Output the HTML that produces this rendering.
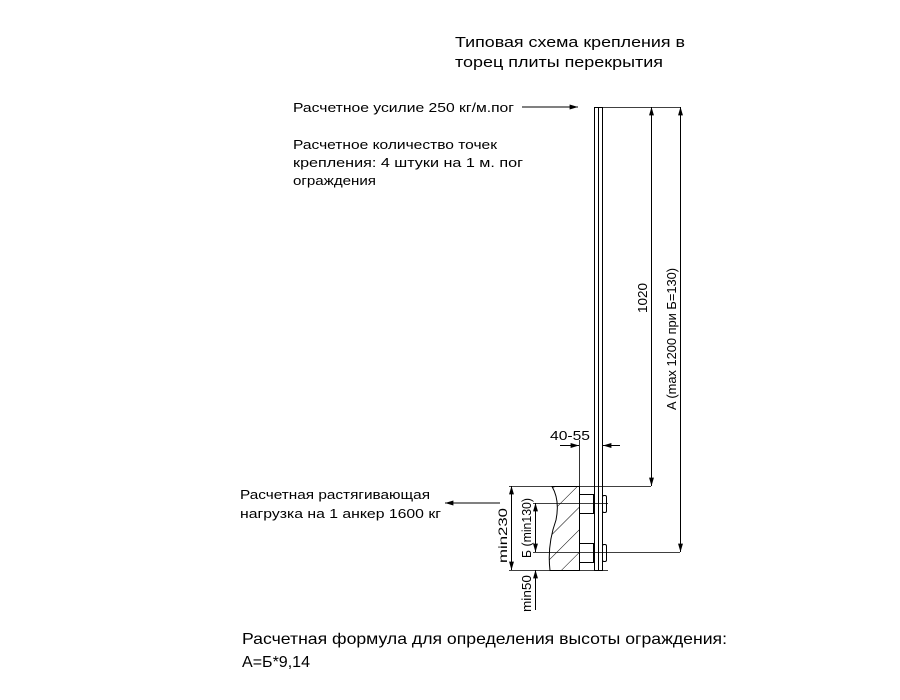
<!DOCTYPE html>
<html><head><meta charset="utf-8"><style>
body{margin:0;background:#fff}
svg{display:block}
text{font-family:"Liberation Sans","DejaVu Sans",sans-serif;fill:#000}
</style></head><body>
<svg width="900" height="700" viewBox="0 0 900 700" xmlns="http://www.w3.org/2000/svg">
<defs>
<marker id="a" viewBox="0 0 12 10" refX="12" refY="5" markerWidth="12" markerHeight="7" orient="auto-start-reverse" markerUnits="userSpaceOnUse"><path d="M0,1.5 L12,5 L0,8.5z" fill="#000"/></marker>
<pattern id="h" width="16" height="16" patternUnits="userSpaceOnUse" patternTransform="rotate(45)"><line x1="0" y1="0" x2="0" y2="16" stroke="#000" stroke-width="1"/></pattern>
</defs>
<g font-size="14">
<text x="455" y="47" font-size="15" textLength="230" lengthAdjust="spacingAndGlyphs">Типовая схема крепления в</text>
<text x="455" y="67" font-size="15" textLength="208" lengthAdjust="spacingAndGlyphs">торец плиты перекрытия</text>
<text x="293" y="112" font-size="13" textLength="221" lengthAdjust="spacingAndGlyphs">Расчетное усилие 250 кг/м.пог</text>
<text x="293" y="149" font-size="13" textLength="204" lengthAdjust="spacingAndGlyphs">Расчетное количество точек</text>
<text x="293" y="167" font-size="13" textLength="230" lengthAdjust="spacingAndGlyphs">крепления: 4 штуки на 1 м. пог</text>
<text x="293" y="185" font-size="13" textLength="83" lengthAdjust="spacingAndGlyphs">ограждения</text>
<text x="240" y="499" font-size="13" textLength="190" lengthAdjust="spacingAndGlyphs">Расчетная растягивающая</text>
<text x="240" y="518" font-size="13" textLength="201" lengthAdjust="spacingAndGlyphs">нагрузка на 1 анкер 1600 кг</text>
<text x="242" y="644" font-size="16" textLength="485" lengthAdjust="spacingAndGlyphs">Расчетная формула для определения высоты ограждения:</text>
<text x="242" y="667" font-size="16" textLength="68" lengthAdjust="spacingAndGlyphs">А=Б*9,14</text>
<text x="550" y="440" font-size="13" textLength="40" lengthAdjust="spacingAndGlyphs">40-55</text>
</g>
<g stroke="#000" stroke-width="1" fill="none">
<line x1="522" y1="107" x2="578" y2="107" marker-end="url(#a)"/>
<line x1="500" y1="503" x2="445" y2="503" marker-end="url(#a)"/>
<rect x="594.5" y="107.5" width="8" height="463"/>
<line x1="598.5" y1="107" x2="598.5" y2="570"/>
<line x1="602" y1="107.5" x2="680" y2="107.5" stroke-width="0.8"/>
<path d="M552,486.5 L579.5,486.5 L579.5,570.5 L550,570.5 Q547,545 556,520 Q560,500 552,486.5z" fill="url(#h)"/>
<rect x="579.5" y="494.5" width="14" height="19" fill="#fff"/>
<rect x="579.5" y="543.5" width="14" height="19" fill="#fff"/>
<rect x="602.5" y="495.5" width="4" height="17" rx="1.5" fill="#fff"/>
<rect x="602.5" y="544.5" width="4" height="17" rx="1.5" fill="#fff"/>
<g stroke-width="0.8">
<line x1="509" y1="486.5" x2="651" y2="486.5"/>
<line x1="533" y1="503.5" x2="608" y2="503.5"/>
<line x1="533" y1="552.5" x2="680" y2="552.5"/>
<line x1="509" y1="570.5" x2="608" y2="570.5"/>
<line x1="579.5" y1="440" x2="579.5" y2="486"/>
<line x1="602.5" y1="440" x2="602.5" y2="450"/>
</g>
<line x1="651.5" y1="107" x2="651.5" y2="486" marker-start="url(#a)" marker-end="url(#a)"/>
<line x1="680.5" y1="107" x2="680.5" y2="552" marker-start="url(#a)" marker-end="url(#a)"/>
<line x1="511.5" y1="486" x2="511.5" y2="570" marker-start="url(#a)" marker-end="url(#a)"/>
<line x1="535.5" y1="503" x2="535.5" y2="552" marker-start="url(#a)" marker-end="url(#a)"/>
<line x1="535.5" y1="610" x2="535.5" y2="570" marker-end="url(#a)"/>
<line x1="560" y1="445.5" x2="579" y2="445.5" marker-end="url(#a)"/>
<line x1="620" y1="445.5" x2="603" y2="445.5" marker-end="url(#a)"/>
</g>
<g font-size="13">
<text transform="translate(647,313) rotate(-90)" textLength="30" lengthAdjust="spacingAndGlyphs">1020</text>
<text transform="translate(676,410) rotate(-90)" textLength="142" lengthAdjust="spacingAndGlyphs">A (max 1200 при Б=130)</text>
<text transform="translate(507,563) rotate(-90)" font-size="12" textLength="55" lengthAdjust="spacingAndGlyphs">min230</text>
<text transform="translate(531,558) rotate(-90)" textLength="60" lengthAdjust="spacingAndGlyphs">Б (min130)</text>
<text transform="translate(531,612) rotate(-90)" textLength="37" lengthAdjust="spacingAndGlyphs">min50</text>
</g>
</svg>
</body></html>
